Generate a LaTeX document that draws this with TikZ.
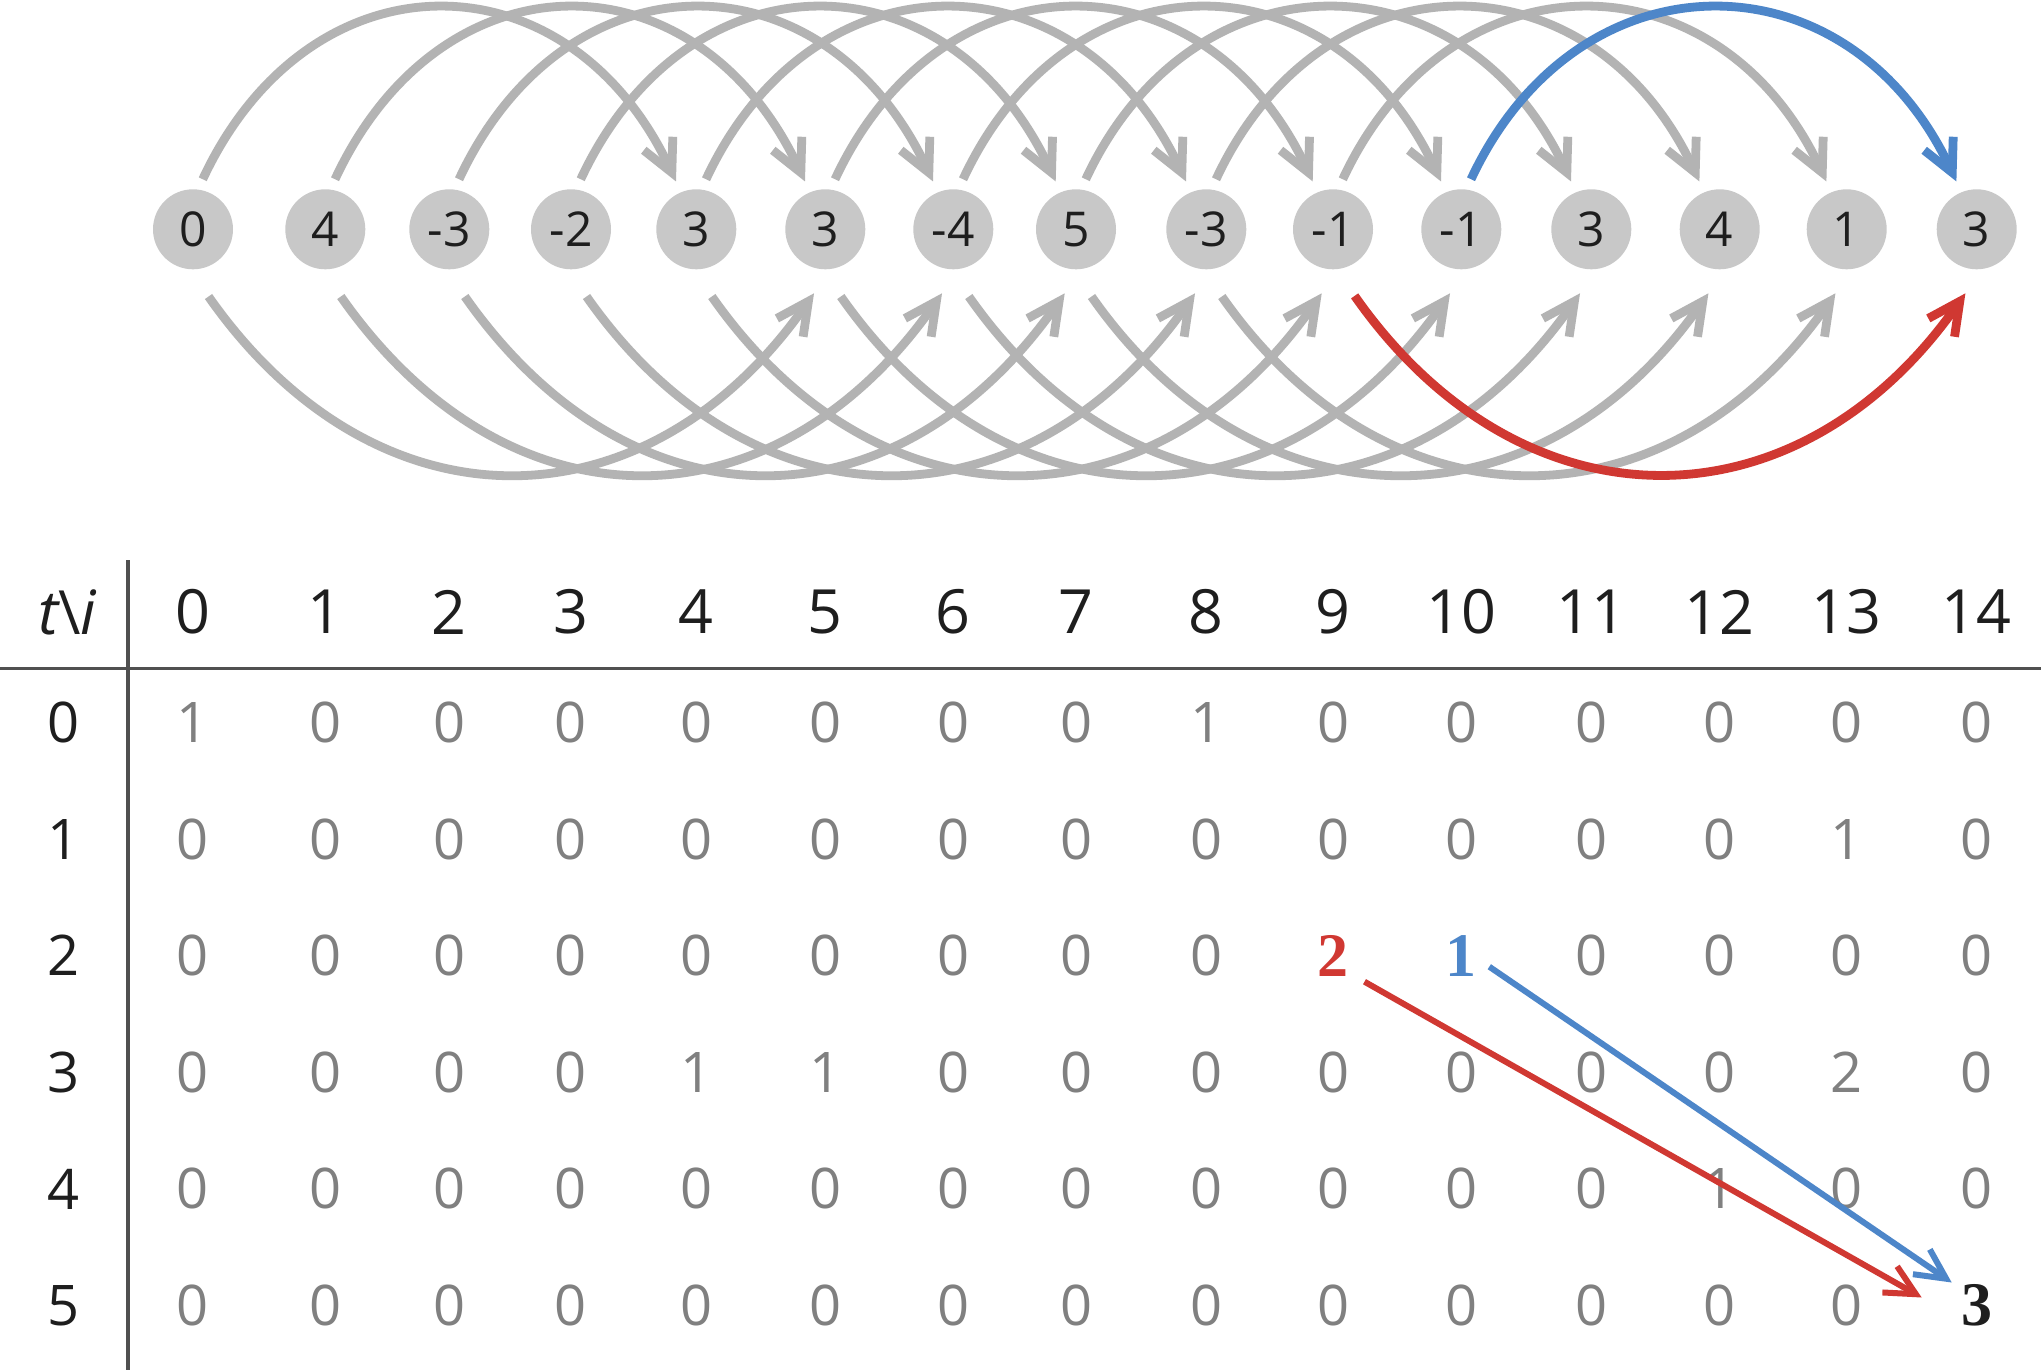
\documentclass[tikz,border=0pt]{standalone}
\usepackage{fontspec}
\setmainfont{Open Sans}
\newfontfamily\boldserif{Liberation Serif}
\usetikzlibrary{arrows.meta}
\definecolor{nodefill}{RGB}{200,200,200}
\definecolor{arcgray}{RGB}{179,179,179}
\definecolor{valgray}{RGB}{128,128,128}
\definecolor{txtdark}{RGB}{30,30,30}
\definecolor{linegray}{RGB}{80,80,80}
\definecolor{myblue}{RGB}{77,134,201}
\definecolor{myred}{RGB}{208,56,50}
\newcommand\cellred[1]{{\fontsize{31}{32}\boldserif\bfseries\color{myred}#1}}
\newcommand\cellblue[1]{{\fontsize{31}{32}\boldserif\bfseries\color{myblue}#1}}
\newcommand\cellbold[1]{{\fontsize{31}{32}\boldserif\bfseries\color{txtdark}#1}}
\def\colx{{193,325.3,449.3,571,696.3,825.3,953.3,1076,1206.3,1333,1461.3,1591.3,1719.7,1846.7,1976.7}}
\def\rowy{{722.5,839.1,955.7,1072.3,1188.9,1305.5}}
\newcommand\tablerow[2]{%
  \foreach \v [count=\ci from 0] in {#2} {%
    \pgfmathsetmacro\xx{\colx[\ci]}%
    \pgfmathsetmacro\yy{\rowy[#1]}%
    \node[cell] (c#1-\ci) at (\xx,\yy) {\v};
  }%
  \pgfmathsetmacro\yy{\rowy[#1]}%
  \node[rowlab] (rl#1) at (64,\yy) {#1};
}
\begin{document}
\begin{tikzpicture}[x=0.5pt,y=-0.5pt,
  vnode/.style={circle,fill=nodefill,minimum size=40pt,inner sep=0pt,outer sep=0pt,
    text=txtdark,font=\fontsize{24}{26}\selectfont},
  toparc/.style={line width=4.4pt,draw=arcgray,-{Straight Barb[length=16pt,width=16pt]}},
  botarc/.style={line width=4.4pt,draw=arcgray,-{Straight Barb[length=16pt,width=16pt]}},
  cell/.style={inner sep=0pt,text=valgray,font=\fontsize{28}{30}\selectfont},
  rowlab/.style={inner sep=0pt,text=txtdark,font=\fontsize{28}{30}\selectfont},
  hdr/.style={inner sep=0pt,text=txtdark,font=\fontsize{30.5}{32}\selectfont},
  tabarrow/.style={line width=3pt,-{Straight Barb[length=15pt,width=15pt]}}
]
\useasboundingbox (0,0) rectangle (2041,1370);
\fill[white] (0,0) rectangle (2041,1370);

% sequence nodes
\foreach \i/\x/\v in {0/193/0,1/325.3/4,2/449.3/-3,3/571/-2,4/696.3/3,5/825.3/3,6/953.3/-4,
  7/1076/5,8/1206.3/-3,9/1333/-1,10/1461.3/-1,11/1591.3/3,12/1719.7/4,13/1846.7/1,14/1976.7/3}
  \node[vnode] (n\i) at (\x,229.3) {\v};

% upper arcs (i -> i+4)
\foreach \i in {0,...,9} {
  \pgfmathtruncatemacro\j{\i+4}
  \draw[toparc] ([shift={(79:5.5pt)}]n\i.79) .. controls +(65:127pt) and +(115:127pt) .. ([shift={(113:6pt)}]n\j.113);
}
% lower arcs (i -> i+5)
\foreach \i in {0,...,8} {
  \pgfmathtruncatemacro\j{\i+5}
  \draw[botarc] ([shift={(-77:14.5pt)}]n\i.-77) .. controls +(-55:146pt) and +(-125:146pt) .. ([shift={(-100:12.5pt)}]n\j.-100);
}
\draw[toparc,draw=myblue] ([shift={(79:5.5pt)}]n10.79) .. controls +(65:127pt) and +(115:127pt) .. ([shift={(113:6pt)}]n14.113);
\draw[botarc,draw=myred] ([shift={(-72:15pt)}]n9.-72) .. controls +(-55:146pt) and +(-125:146pt) .. ([shift={(-100:12.5pt)}]n14.-100);

% table rules
\draw[linegray,line width=1.6pt] (128,560) -- (128,1370);
\draw[linegray,line width=1.6pt] (0,668.3) -- (2041,668.3);

% header
\node[hdr,anchor=base] (corner) at (67,634) {\itshape t\upshape\textbackslash\itshape i};
\foreach \i [count=\ci from 0] in {0,...,14} {
  \pgfmathsetmacro\xx{\colx[\ci]}
  \node[hdr] (h\ci) at (\xx,612) {\i};
}

% rows
\tablerow{0}{1,0,0,0,0,0,0,0,1,0,0,0,0,0,0}
\tablerow{1}{0,0,0,0,0,0,0,0,0,0,0,0,0,1,0}
\tablerow{2}{0,0,0,0,0,0,0,0,0,\cellred{2},\cellblue{1},0,0,0,0}
\tablerow{3}{0,0,0,0,1,1,0,0,0,0,0,0,0,2,0}
\tablerow{4}{0,0,0,0,0,0,0,0,0,0,0,0,1,0,0}
\tablerow{5}{0,0,0,0,0,0,0,0,0,0,0,0,0,0,\cellbold{3}}

% table arrows
\draw[tabarrow,draw=myred] ([shift={(31.5,26)}]c2-9.center) -- ([shift={(-55,-8)}]c5-14.center);
\draw[tabarrow,draw=myblue] ([shift={(28,11)}]c2-10.center) -- ([shift={(-25,-23)}]c5-14.center);
\end{tikzpicture}
\end{document}
